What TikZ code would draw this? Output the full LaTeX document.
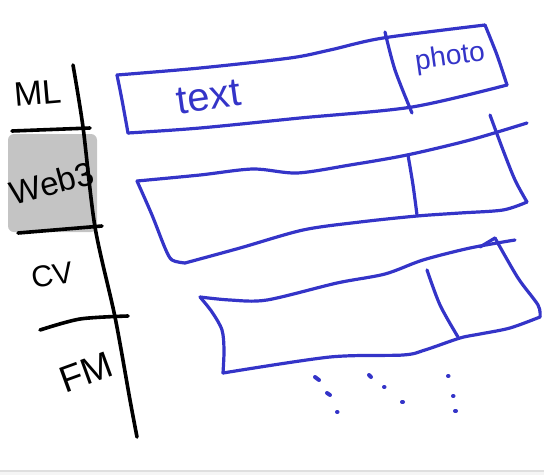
\documentclass[tikz,border=0pt]{standalone}
\usepackage{fontspec}
\setmainfont{Liberation Sans}
\definecolor{penblue}{RGB}{52,52,200}
\definecolor{boxgray}{RGB}{196,196,196}

\begin{document}
\begin{tikzpicture}[x=1pt, y=-1pt, line cap=round, line join=round,
	ink/.style={line width=3.6pt, black},
	pen/.style={line width=3.2pt, penblue},
	dot/.style={line width=4pt, penblue},
	lbl/.style={font=\fontsize{34}{34}\selectfont, inner sep=0pt}]
	\useasboundingbox (0,0) rectangle (544,475);
	\fill[gray!8] (0,471) rectangle (544,475);
	\draw[gray!25, line width=1.5pt] (0,471) -- (544,471);

	% side bar
	\fill[boxgray, rounded corners=6pt] (8,134) rectangle (97,232);
	\draw[ink] plot[smooth] coordinates {(73,65) (83,127) (95,227) (115,317) (130,400) (137,437)};
	\draw[ink] (12,131) -- (90,128);
	\draw[ink] (18,233) -- (102,226);
	\draw[ink] plot[smooth] coordinates {(40,330) (80,319) (128,316)};

	\node [lbl, rotate=5] (ml) at (38,93) {ML};
	\node [lbl, rotate=15, font=\fontsize{33}{33}\selectfont] (webthree) at (52,183) {Web3};
	\node [lbl, rotate=10, font=\fontsize{30}{30}\selectfont] (cv) at (52,275) {CV};
	\node [lbl, rotate=20, font=\fontsize{37}{37}\selectfont] (fm) at (86,372) {FM};

	% first card
	\draw[pen] plot[smooth] coordinates {(117,75) (200,68) (290,58) (330,50) (383,38) (485,25)};
	\draw[pen] plot[smooth] coordinates {(485,25) (497,55) (507,85)};
	\draw[pen] plot[smooth] coordinates {(507,85) (412,107) (300,118) (200,128) (128,133)};
	\draw[pen] plot[smooth] coordinates {(128,133) (122,100) (117,75)};
	\draw[pen] plot[smooth] coordinates {(385,32) (395,70) (412,113)};
	\node [lbl, penblue, rotate=8, font=\fontsize{40}{40}\selectfont] (txt) at (209,97) {text};
	\node [lbl, penblue, rotate=8, font=\fontsize{28}{28}\selectfont] (photo) at (450,58) {photo};

	% second card
	\draw[pen] plot[smooth] coordinates {(137,181) (200,175) (253,169) (297,173) (350,165) (407,155) (470,140) (527,123)};
	\draw[pen] plot[smooth] coordinates {(490,115) (503,150) (515,180) (527,202)};
	\draw[pen] plot[smooth] coordinates {(527,202) (503,210) (460,213) (417,216) (360,222) (303,230) (240,248) (185,263)};
	\draw[pen] plot[smooth] coordinates {(137,181) (152,215) (165,248) (172,260) (185,263)};
	\draw[pen] plot[smooth] coordinates {(408,155) (413,185) (417,215)};

	% third card
	\draw[pen] plot[smooth] coordinates {(200,297) (230,300) (267,300) (337,283) (385,274) (423,260) (470,248) (515,240)};
	\draw[pen] (480,247) -- (495,238);
	\draw[pen] plot[smooth] coordinates {(495,238) (518,278) (538,305) (540,317)};
	\draw[pen] plot[smooth] coordinates {(540,317) (510,328) (480,334) (460,338) (425,350) (403,355) (330,357) (223,373)};
	\draw[pen] plot[smooth] coordinates {(200,297) (212,312) (222,330) (224,350) (223,373)};
	\draw[pen] plot[smooth] coordinates {(427,270) (440,305) (458,337)};

	% more cards
	\draw[dot] (315,377) -- (319,380);
	\draw[dot] (327,393) -- (330,395);
	\draw[dot] (337,412) -- (337.5,412);
	\draw[dot] (369,375) -- (371,377);
	\draw[dot] (384,387) -- (384.5,387);
	\draw[dot] (402,402) -- (403,402);
	\draw[dot] (448,376) -- (448.5,376);
	\draw[dot] (453,396) -- (453.5,396);
	\draw[dot] (455,411) -- (456,411);
\end{tikzpicture}
\end{document}
